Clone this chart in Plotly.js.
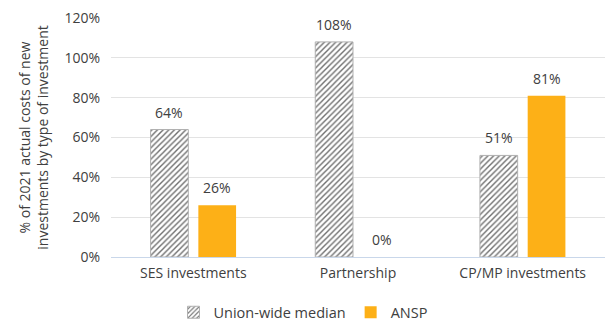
<!DOCTYPE html>
<html><head><meta charset="utf-8">
<script src="https://cdn.plot.ly/plotly-3.0.1.min.js"></script>
<style>html,body{margin:0;padding:0;background:#fff;}#chart{width:606px;height:322px;}</style>
</head><body><div id="chart"></div>
<script>
const categories = ["SES investments", "Partnership", "CP/MP investments"];
const unionMedian = [64, 108, 51];
const ansp = [26, 0, 81];
const seriesNames = ["Union-wide median", "ANSP"];
const yTicks = [0, 20, 40, 60, 80, 100, 120];

const font = {family: "Open Sans, Noto Sans, sans-serif", size: 13, color: "#404040"};
const traces = [
  {type: "bar", name: seriesNames[0], x: categories, y: unionMedian,
   marker: {color: "white", line: {color: "#b0b0b0", width: 1},
            pattern: {shape: "/", fgcolor: "#6f6f6f", bgcolor: "white", size: 4, solidity: 0.35}},
   hoverinfo: "skip"},
  {type: "bar", name: seriesNames[1], x: categories, y: ansp,
   marker: {color: "#FDB017"}, hoverinfo: "skip"}
];
// data labels placed over each bar of the group
const groupShift = 24;
const annotations = [];
[unionMedian, ansp].forEach((series, si) => {
  series.forEach((v, i) => {
    annotations.push({x: categories[i], y: v, xref: "x", yref: "y",
      text: v + "%", showarrow: false, yanchor: "bottom",
      xshift: si === 0 ? -groupShift : groupShift, yshift: 6,
      font: {size: 14, color: "#404040"}});
  });
});
const layout = {
  width: 606, height: 322,
  margin: {l: 111, r: 1, t: 18, b: 65},
  paper_bgcolor: "white", plot_bgcolor: "white",
  font: font,
  barmode: "group", bargap: 0.42, bargroupgap: 0.21,
  showlegend: true,
  annotations: annotations,
  legend: {orientation: "h", x: 0.5, xanchor: "center", xref: "container",
           y: 0.03, yanchor: "middle", yref: "container",
           font: {size: 14.5, color: "#404040"}, traceorder: "normal", itemwidth: 30},
  xaxis: {showgrid: false, showline: false, zeroline: false, ticks: "",
          ticklabelstandoff: 6,
          tickfont: {size: 14, color: "#404040"}},
  yaxis: {range: [0, 120], tickvals: yTicks, ticktext: yTicks.map(v => v + "%"),
          showgrid: true, gridcolor: "#e3e3e3", gridwidth: 1,
          zeroline: true, zerolinecolor: "#c9d7ea", zerolinewidth: 1,
          showline: false, ticks: "", ticklabelstandoff: 10,
          tickfont: {size: 14, color: "#404040"},
          title: {text: "% of 2021 actual costs of new<br>investments by type of investment",
                  font: {size: 14, color: "#404040"}, standoff: 12}}
};
Plotly.newPlot("chart", traces, layout, {displayModeBar: false, staticPlot: true});
</script></body></html>
